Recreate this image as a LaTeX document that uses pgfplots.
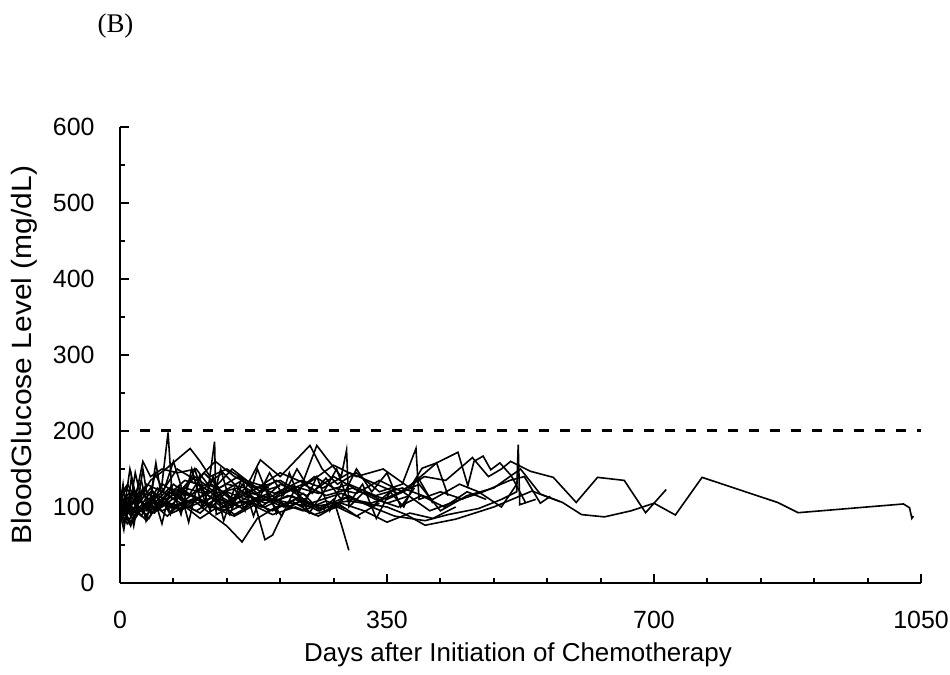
\documentclass[border=0pt]{standalone}
\usepackage{pgfplots}
\pgfplotsset{compat=1.18}
\usepackage{fontspec}
\setmainfont{Liberation Sans}
\newfontfamily\timesfont{Liberation Serif}
\newcommand{\bigf}{\fontsize{25}{30}\selectfont}
\begin{document}
\begin{tikzpicture}
\useasboundingbox (-120bp,-92bp) rectangle (830bp,583bp);
\begin{axis}[
  at={(0,0)}, anchor=south west,
  scale only axis, width=801bp, height=456bp,
  xmin=0, xmax=1050, ymin=0, ymax=600,
  xtick={0,350,700,1050}, ytick={0,100,...,600},
  minor x tick num=4, minor y tick num=1,
  tick align=inside,
  major tick length=9bp, minor tick length=5bp,
  axis x line*=bottom, axis y line*=left,
  axis line style={line width=2.6bp, black},
  tick style={line width=2bp, black},
  /pgf/number format/assume math mode=true,
  /pgf/number format/set thousands separator={},
  tick label style={font=\bigf},
  x tick label style={yshift=-25bp},
  y tick label style={xshift=-22bp},
  gl/.style={black, line width=1.6bp, no markers, solid},
]
\addplot[black, dash pattern=on 10bp off 11bp, line width=3bp] coordinates {(26,200) (1050,200)};
% S1 long
\addplot[gl] coordinates {(0,95) (7,110) (14,88) (28,120) (42,105) (56,130) (77,115) (98,140) (126,118) (154,125) (182,105) (210,130) (245,115) (280,140) (315,120) (350,110) (392,130) (420,95) (455,115) (490,125) (525,150) (551,117) (580,106) (605,90) (635,87) (670,95) (700,105) (728,89.5) (763,139) (862,106) (889,92.5) (1027,104) (1035,99) (1038,85) (1040,88)};
% S2
\addplot[gl] coordinates {(0,100) (10,92) (21,115) (35,100) (49,125) (70,110) (91,135) (119,120) (147,150) (175,128) (203,118) (238,135) (266,125) (301,145) (336,130) (364,118) (399,140) (427,135) (462,165) (483,140) (500,150) (512,160) (538,147) (568,139) (598,106) (626,139) (661,135) (689,92.5) (716,123)};
% S3
\addplot[gl] coordinates {(0,90) (8,105) (18,95) (32,115) (46,98) (63,120) (84,108) (105,125) (133,100) (161,115) (196,108) (224,122) (259,98) (294,112) (329,105) (371,120) (406,95) (441,108) (476,120) (511,135) (530,140) (551,105) (564,114)};
% S4
\addplot[gl] coordinates {(0,85) (6,98) (15,88) (25,110) (40,92) (60,105) (80,95) (100,112) (130,98) (160,108) (190,100) (220,115) (250,105) (290,118) (330,100) (360,88) (400,82) (430,90) (470,98) (500,110) (520,120) (522,182) (524,103) (545,110)};
% S5
\addplot[gl] coordinates {(0,110) (9,125) (20,105) (35,130) (55,120) (75,150) (100,135) (125,160) (150,140) (180,125) (210,145) (245,130) (280,155) (310,140) (345,150) (380,125) (396,151) (415,158) (443,172) (456,128) (464,160) (476,167) (486,149) (498,158) (513,141) (532,105)};
% S6
\addplot[gl] coordinates {(0,95) (5,80) (12,100) (22,90) (35,105) (50,95) (70,118) (90,100) (115,122) (140,105) (165,125) (190,110) (215,100) (240,118) (262,95) (280,110) (291,74) (300,43)};
% S7
\addplot[gl] coordinates {(0,100) (8,115) (18,95) (30,125) (45,110) (55,130) (63,198) (68,120) (85,135) (110,128) (135,145) (160,120) (190,105) (225,115) (255,100)};
% S8
\addplot[gl] coordinates {(0,105) (12,118) (25,110) (40,135) (60,150) (92,177) (105,160) (118,140) (140,150) (165,135) (195,125)};
% S9
\addplot[gl] coordinates {(0,88) (10,78) (20,100) (35,90) (50,105) (70,98) (95,110) (120,90) (140,75) (160,54) (180,85) (205,100) (230,110) (260,95) (285,105) (315,85)};
% S10
\addplot[gl] coordinates {(0,92) (6,85) (15,100) (28,88) (40,112) (55,100) (75,115) (95,105) (115,120) (124,186) (126,90) (145,100) (170,115) (195,95) (225,108)};
% S11
\addplot[gl] coordinates {(0,98) (10,105) (22,92) (38,110) (55,95) (80,105) (105,92) (130,115) (155,100) (175,110) (190,57) (200,63) (215,95) (240,110) (270,95) (300,115) (330,100) (360,125)};
% S12
\addplot[gl] coordinates {(0,102) (9,95) (20,112) (35,100) (55,120) (80,105) (110,115) (140,130) (165,125) (184,162) (210,140) (249,181) (265,150) (285,130) (310,145) (340,120) (370,130) (388,177) (392,110) (420,120) (450,110)};
% S13
\addplot[gl] coordinates {(0,110) (12,100) (25,120) (45,105) (65,125) (90,115) (120,130) (150,110) (180,125) (210,135) (235,120) (258,181) (270,165) (290,140) (297,175) (300,100) (320,120) (350,105) (380,115)};
% S14
\addplot[gl] coordinates {(0,85) (5,95) (14,80) (25,98) (38,85) (52,110) (68,92) (86,100) (105,85) (125,98) (150,88) (175,102) (200,90) (230,100) (260,88) (290,105) (320,95) (350,80) (380,92) (410,85) (440,100)};
% S15
\addplot[gl] coordinates {(0,115) (10,130) (20,110) (30,160) (40,140) (55,150) (75,145) (100,150) (115,130) (135,120) (160,135) (185,120) (210,128)};
% S16
\addplot[gl] coordinates {(0,95) (7,100) (18,120) (30,105) (45,98) (60,115) (80,125) (100,110) (120,100) (140,120) (165,110) (185,100) (210,118) (240,130) (270,115) (305,125) (335,110) (365,100) (395,115) (425,100) (455,120) (480,110)};
% S17
\addplot[gl] coordinates {(0,90) (15,100) (35,95) (60,105) (90,100) (120,112) (150,105) (200,110) (250,100) (300,108) (350,100) (375,90) (400,76) (440,84) (490,100) (540,121) (577,107)};
% S18
\addplot[gl] coordinates {(0,100) (5,120) (12,95) (20,145) (28,110) (40,125) (55,105) (70,130) (90,115) (110,145) (130,125) (155,140) (180,118) (205,135) (230,120) (255,140) (280,125) (310,118) (340,135) (370,120) (400,145) (415,158) (430,115)};
% S19
\addplot[gl] coordinates {(0,80) (6,92) (14,75) (22,95) (35,82) (48,100) (62,88) (80,105) (100,95) (125,110) (150,90) (175,105) (200,95) (225,108) (255,90) (285,100) (310,88) (340,105)};
% S20
\addplot[gl] coordinates {(0,105) (10,112) (25,98) (40,120) (60,110) (85,125) (110,118) (135,105) (165,120) (195,112) (225,128) (260,118) (300,130) (335,115) (370,125) (410,110) (445,130) (470,120) (500,100) (520,130)};
% S21
\addplot[gl] coordinates {(0,93) (8,88) (18,108) (30,95) (45,115) (65,100) (85,120) (110,108) (135,118) (160,98) (185,115) (210,105) (240,95) (270,108) (295,98)};
% S22
\addplot[gl] coordinates {(0,98) (5,90) (10,105) (20,85) (30,100) (45,92) (60,108) (78,98) (98,112) (120,100) (145,95) (170,108) (195,118) (220,100) (245,112)};
% S23
\addplot[gl] coordinates {(0,105) (4,130) (9,85) (15,140) (22,95) (30,150) (38,100) (47,158) (55,110) (66,90) (78,125) (90,80) (104,140) (118,95) (132,150) (146,100) (160,138) (175,88) (190,130) (205,92) (222,145) (240,100) (258,140) (275,95) (290,130)};
% S24
\addplot[gl] coordinates {(0,92) (5,70) (11,110) (18,75) (26,120) (34,82) (44,115) (55,78) (67,128) (80,90) (94,150) (108,100) (122,140) (136,82) (150,125) (164,95) (180,150) (196,110) (212,88) (230,125) (248,92) (266,118) (284,150) (300,105) (318,130) (336,85) (354,120) (372,100) (390,140) (410,105)};
% S25
\addplot[gl] coordinates {(0,120) (6,100) (13,150) (20,118) (28,135) (37,96) (46,145) (57,120) (70,160) (84,115) (98,150) (112,105) (128,125) (144,90) (160,130) (178,108) (196,145) (214,115) (232,150) (252,118) (270,138) (290,110) (310,150) (330,120) (350,145) (368,100) (386,125)};
\end{axis}
\node[font=\fontsize{26}{31}\selectfont] at (398bp,-72bp) {Days after Initiation of Chemotherapy};
\node[font=\fontsize{28}{33}\selectfont, rotate=90, xscale=1.075] at (-96bp,228bp) {BloodGlucose Level (mg/dL)};
\node[font=\timesfont\fontsize{27}{32}\selectfont] at (-4.5bp,557bp) {(B)};
\end{tikzpicture}
\end{document}
